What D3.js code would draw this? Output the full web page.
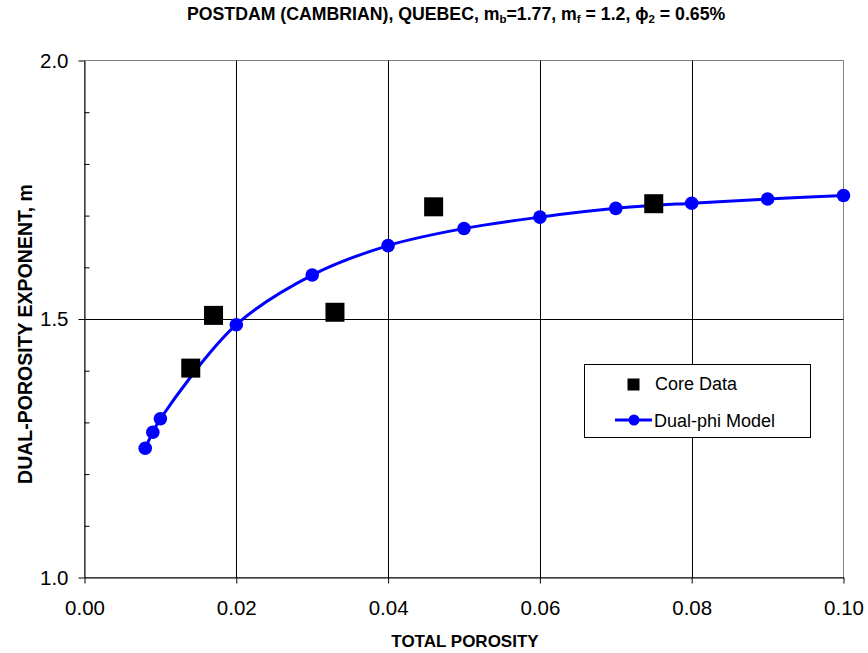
<!DOCTYPE html>
<html>
<head>
<meta charset="utf-8">
<script src="https://cdn.jsdelivr.net/npm/d3@7"></script>
<style>
  body { margin: 0; background: #fff; }
  text { font-family: "Liberation Sans", Arial, sans-serif; }
</style>
</head>
<body>
<svg id="chart" width="868" height="653"></svg>
<script>
// model curve points (total porosity, m)
const modelPhi = [0.008, 0.009, 0.010, 0.020, 0.030, 0.040, 0.050, 0.060, 0.070, 0.080, 0.090, 0.100];
const modelM = [1.250, 1.281, 1.307, 1.489, 1.585, 1.642, 1.675, 1.697, 1.714, 1.724, 1.732, 1.739];

// core measurements
const corePhi = [0.014, 0.017, 0.033, 0.046, 0.075];
const coreM = [1.405, 1.507, 1.513, 1.717, 1.723];

const xTicks = [0, 0.02, 0.04, 0.06, 0.08, 0.10];
const yTicks = [1.0, 1.5, 2.0];
const yMinor = [1.1, 1.2, 1.3, 1.4, 1.6, 1.7, 1.8, 1.9];

const svg = d3.select("#chart");
const plotL = 84.5, plotR = 843.5, plotT = 60.5, plotB = 577.5;

const x = d3.scaleLinear().domain([0, 0.10]).range([plotL, plotR]);
const y = d3.scaleLinear().domain([1.0, 2.0]).range([plotB, plotT]);

// plot frame
svg.append("rect")
  .attr("x", plotL).attr("y", plotT)
  .attr("width", plotR - plotL).attr("height", plotB - plotT)
  .attr("fill", "#fff").attr("stroke", "#808080").attr("stroke-width", 1);

// gridlines
svg.append("g").selectAll("line")
  .data(xTicks.slice(1, -1))
  .join("line")
  .attr("x1", d => Math.round(x(d)) + 0.5).attr("x2", d => Math.round(x(d)) + 0.5)
  .attr("y1", plotT).attr("y2", plotB)
  .attr("stroke", "#000").attr("stroke-width", 1);

svg.append("g").selectAll("line")
  .data(yTicks.slice(1, -1))
  .join("line")
  .attr("x1", plotL).attr("x2", plotR)
  .attr("y1", d => Math.round(y(d)) + 0.5).attr("y2", d => Math.round(y(d)) + 0.5)
  .attr("stroke", "#000").attr("stroke-width", 1);

// axes
const xAxis = svg.append("g")
  .attr("transform", `translate(0,${plotB})`)
  .call(d3.axisBottom(x).tickValues(xTicks).tickFormat(d3.format(".2f")).tickSizeInner(6).tickSizeOuter(0).tickPadding(17));

const yAxis = svg.append("g")
  .attr("transform", `translate(${plotL},0)`)
  .call(d3.axisLeft(y).tickValues(yTicks).tickFormat(d3.format(".1f")).tickSizeInner(6).tickSizeOuter(0).tickPadding(10));

svg.append("g")
  .attr("transform", `translate(${plotL},0)`)
  .call(d3.axisRight(y).tickValues(yMinor).tickSize(5).tickFormat(""))
  .call(g => g.select(".domain").remove());

[xAxis, yAxis].forEach(g => {
  g.selectAll("text").attr("font-size", 20.5).attr("fill", "#000")
    .style("font-family", "'Liberation Sans', Arial, sans-serif");
  g.select(".domain").attr("stroke", "#000");
});
svg.selectAll(".tick line").attr("stroke", "#000");

// model line
const line = d3.line()
  .x((d, i) => x(modelPhi[i]))
  .y(d => y(d))
  .curve(d3.curveCatmullRom.alpha(0.5));

svg.append("path")
  .datum(modelM)
  .attr("d", line)
  .attr("fill", "none")
  .attr("stroke", "#0000ff")
  .attr("stroke-width", 3);

svg.append("g").selectAll("circle")
  .data(modelM)
  .join("circle")
  .attr("cx", (d, i) => x(modelPhi[i]))
  .attr("cy", d => y(d))
  .attr("r", 6.8)
  .attr("fill", "#0000ff");

// core squares
const sq = 19;
svg.append("g").selectAll("rect")
  .data(coreM)
  .join("rect")
  .attr("x", (d, i) => x(corePhi[i]) - sq / 2)
  .attr("y", d => y(d) - sq / 2)
  .attr("width", sq).attr("height", sq)
  .attr("fill", "#000");

// legend
const lg = svg.append("g");
lg.append("rect")
  .attr("x", 584.5).attr("y", 364.5).attr("width", 226).attr("height", 73)
  .attr("fill", "#fff").attr("stroke", "#000");
lg.append("rect")
  .attr("x", 627.5).attr("y", 378.5).attr("width", 12).attr("height", 12).attr("fill", "#000");
lg.append("text").attr("x", 655).attr("y", 389.5).attr("font-size", 18).text("Core Data");
lg.append("line")
  .attr("x1", 615).attr("x2", 652).attr("y1", 420).attr("y2", 420)
  .attr("stroke", "#0000ff").attr("stroke-width", 3);
lg.append("circle").attr("cx", 634).attr("cy", 420).attr("r", 5.5).attr("fill", "#0000ff");
lg.append("text").attr("x", 654).attr("y", 427).attr("font-size", 18).text("Dual-phi Model");

// titles
const title = svg.append("text")
  .attr("x", 187).attr("y", 20)
  .attr("font-size", 17.7).attr("font-weight", "bold");
title.append("tspan").text("POSTDAM (CAMBRIAN), QUEBEC, m");
title.append("tspan").attr("font-size", 11.5).attr("dy", 3).text("b");
title.append("tspan").attr("dy", -3).text("=1.77, m");
title.append("tspan").attr("font-size", 11.5).attr("dy", 3).text("f");
title.append("tspan").attr("dy", -3).text(" = 1.2, ");
title.append("tspan").text("ϕ");
title.append("tspan").attr("font-size", 11.5).attr("dy", 3).text("2");
title.append("tspan").attr("dy", -3).text(" = 0.65%");

svg.append("text")
  .attr("x", 465).attr("y", 647)
  .attr("text-anchor", "middle")
  .attr("font-size", 17).attr("font-weight", "bold")
  .text("TOTAL POROSITY");

svg.append("text")
  .attr("transform", "translate(32,334) rotate(-90)")
  .attr("text-anchor", "middle")
  .attr("font-size", 19.5).attr("font-weight", "bold")
  .text("DUAL-POROSITY EXPONENT, m");
</script>
</body>
</html>
